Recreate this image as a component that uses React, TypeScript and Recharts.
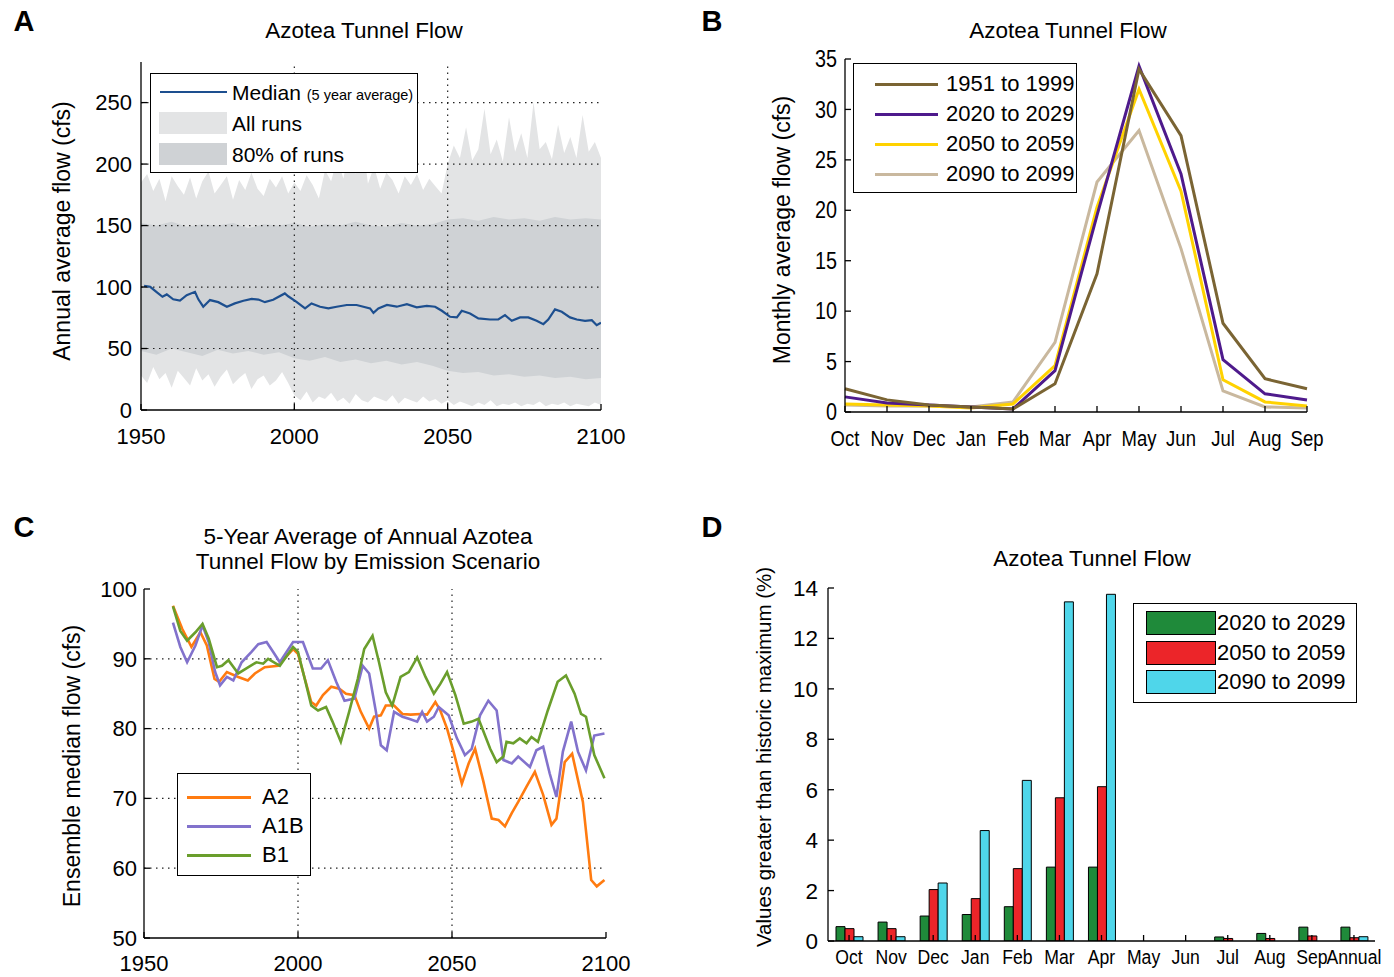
import React from 'react';
import {
  ComposedChart,
  LineChart,
  BarChart,
  Line,
  Area,
  Bar,
  XAxis,
  YAxis,
  ReferenceLine,
  Legend,
} from 'recharts';

const FONT = '"Liberation Sans", Arial, Helvetica, sans-serif';

// ---------------- Panel A data ----------------
const aXTicks = [1950, 2000, 2050, 2100];
const aYTicks = [0, 50, 100, 150, 200, 250];

const allRunsYears = [
  1950, 1952, 1954, 1956, 1958, 1960, 1962, 1964, 1966, 1968, 1970, 1972, 1974, 1976, 1978, 1980,
  1982, 1984, 1986, 1988, 1990, 1992, 1994, 1996, 1998, 2000, 2002, 2004, 2006, 2008, 2010, 2012,
  2014, 2016, 2018, 2020, 2022, 2024, 2026, 2028, 2030, 2032, 2034, 2036, 2038, 2040, 2042, 2044,
  2046, 2048, 2050, 2052, 2054, 2056, 2058, 2060, 2062, 2064, 2066, 2068, 2070, 2072, 2074, 2076,
  2078, 2080, 2082, 2084, 2086, 2088, 2090, 2092, 2094, 2096, 2098, 2100,
];
const allRunsHigh = [
  185, 192, 178, 188, 170, 190, 182, 175, 189, 172, 186, 194, 176, 183, 190, 171,
  187, 179, 193, 180, 174, 188, 181, 190, 176, 185, 178, 191, 183, 172, 195, 186,
  205, 188, 215, 192, 225, 184, 198, 180, 193, 187, 176, 190, 183, 192, 179, 188,
  182, 176, 200, 215, 205, 230, 203, 212, 245, 208, 220, 202, 238, 210, 225, 205,
  250, 212, 218, 204, 232, 209, 222, 205, 240, 210, 218, 205,
];
const allRunsLow = [
  28, 22, 35, 25, 30, 18, 32, 26, 20, 34, 24, 29, 19, 27, 33, 21,
  26, 30, 17, 25, 28, 20, 24, 31, 22, 12, 8, 15, 6, 11, 9, 14,
  7, 10, 5, 13, 8, 6, 11, 9, 7, 12, 5, 10, 8, 6, 11, 7,
  9, 5, 8, 4, 7, 5, 3, 6, 4, 8, 3, 5, 4, 6, 3, 5,
  4, 7, 3, 5, 4, 6, 3, 5, 4, 3, 6, 4,
];

const bandYears = [
  1950, 1955, 1960, 1965, 1970, 1975, 1980, 1985, 1990, 1995, 2000, 2005, 2010, 2015, 2020, 2025,
  2030, 2035, 2040, 2045, 2050, 2055, 2060, 2065, 2070, 2075, 2080, 2085, 2090, 2095, 2100,
];
const band80Low = [
  48, 45, 50, 47, 44, 49, 46, 48, 45, 47, 42, 40, 43, 39, 41, 38,
  40, 37, 39, 36, 32, 30, 31, 28, 29, 27, 28, 26, 27, 25, 26,
];
const band80High = [
  152, 150, 153, 149, 151, 150, 152, 148, 151, 150, 152, 149, 151, 150, 153, 150,
  149, 152, 150, 151, 155, 156, 154, 157, 155, 156, 154, 157, 155, 156, 155,
];

const medianYears = [
  1951, 1953, 1955, 1957, 1958.4, 1960.5, 1962.7, 1964.9, 1967.6, 1968.7, 1970.3, 1972.5, 1975.2,
  1978, 1980.6, 1983.4, 1986.1, 1988.3, 1990.4, 1993.1, 1996.9, 1998, 2000.7, 2003.5, 2005.6,
  2008.4, 2011.1, 2013.8, 2017.1, 2020.3, 2024.7, 2025.8, 2027.4, 2030.2, 2033.4, 2036.7, 2039.9,
  2043.2, 2045.9, 2048.1, 2050.8, 2053, 2054.6, 2057.3, 2060, 2063.8, 2066.5, 2068.7, 2070.9,
  2073.6, 2076.3, 2079, 2081.2, 2082.8, 2085, 2087.2, 2089.9, 2092.1, 2094.8, 2097, 2098.6, 2100,
];
const medianValues = [
  101, 100.2, 96.1, 92.1, 94, 90, 89, 93.4, 96.1, 90, 84, 89.4, 87.7,
  84, 86.7, 88.8, 90.4, 89.8, 87.7, 89.6, 94.8, 92.5, 88, 82.6, 86.7,
  84, 82.6, 84, 85.4, 85.4, 82.6, 79, 82.6, 85.4, 84, 86, 83.5,
  84.6, 84, 80.7, 75.8, 75.3, 80.7, 78.5, 74.5, 73.6, 73.6, 77.2, 72.5,
  75.3, 75.3, 72.5, 69.8, 73.6, 81.8, 79.9, 75.3, 73.6, 72.5, 73.1, 69, 70.9,
];

// ---------------- Panel B data ----------------
const months = ['Oct', 'Nov', 'Dec', 'Jan', 'Feb', 'Mar', 'Apr', 'May', 'Jun', 'Jul', 'Aug', 'Sep'];
const flow1951 = [2.3, 1.2, 0.7, 0.5, 0.3, 2.8, 13.7, 34.0, 27.4, 8.8, 3.3, 2.3];
const flow2020 = [1.5, 0.9, 0.7, 0.5, 0.3, 4.1, 19.5, 34.3, 23.6, 5.2, 1.8, 1.2];
const flow2050 = [0.8, 0.7, 0.6, 0.4, 0.8, 4.6, 20.3, 32.0, 21.9, 3.2, 1.0, 0.6];
const flow2090 = [0.7, 0.6, 0.6, 0.5, 1.0, 6.9, 22.8, 27.9, 16.2, 2.1, 0.5, 0.4];
const bYTicks = [0, 5, 10, 15, 20, 25, 30, 35];

// ---------------- Panel C data ----------------
const cXTicks = [1950, 2000, 2050, 2100];
const cYTicks = [50, 60, 70, 80, 90, 100];
const a2Years = [
  1959.4, 1962.4, 1965.4, 1968.3, 1970.4, 1972.9, 1974.4, 1976.9, 1980.6, 1983.7, 1986, 1989.2,
  1993.5, 1998.4, 2000, 2004.3, 2005.9, 2008.1, 2010.8, 2013.4, 2015.6, 2018.3, 2020.4, 2023.1,
  2024.7, 2026.9, 2028.5, 2031.2, 2033.9, 2036.6, 2039.8, 2041.9, 2044.6, 2046.2, 2048.4, 2050.5,
  2053.2, 2055.4, 2057.5, 2060.2, 2062.9, 2065.1, 2067.2, 2069.4, 2071.5, 2074.2, 2076.9, 2079.6,
  2082.3, 2083.9, 2086.6, 2089, 2092.5, 2095.2, 2097, 2099.5,
];
const a2Values = [
  97.6, 94.3, 91.7, 93.8, 91.9, 87.1, 86.7, 88.1, 87.4, 86.9, 87.9, 88.8,
  89.0, 91.4, 90.7, 83.8, 83.3, 84.8, 86.0, 85.7, 85.0, 84.8, 82.4, 80.0,
  81.7, 81.9, 83.3, 83.3, 82.1, 82.0, 82.1, 82.0, 83.8, 82.6, 80.0, 76.7,
  72.1, 75.0, 77.1, 72.4, 67.1, 66.9, 66.0, 67.9, 69.5, 71.7, 73.8, 70.5,
  66.2, 67.1, 75.2, 76.4, 69.5, 58.3, 57.4, 58.3,
];
const a1bYears = [
  1959.4, 1961.8, 1964, 1966.7, 1969, 1971, 1973.1, 1974.7, 1976.9, 1979, 1981.7, 1984.9,
  1987.1, 1989.8, 1991.9, 1994.1, 1998.4, 2001.6, 2004.8, 2007.5, 2009.7, 2012.4, 2015.1, 2018.3,
  2021, 2023.1, 2025.3, 2026.9, 2028.8, 2031.2, 2033.9, 2036, 2038.7, 2040.3, 2041.9, 2044.1,
  2045.7, 2048.9, 2051.6, 2054.2, 2056.4, 2059.1, 2061.8, 2064.5, 2066.7, 2069.4, 2071.5, 2075.3,
  2077.4, 2079.6, 2081.7, 2083.9, 2086, 2088.7, 2090.9, 2093.5, 2096.2, 2099.5,
];
const a1bValues = [
  95.2, 91.7, 89.5, 91.9, 94.8, 92.4, 88.1, 86.2, 87.4, 86.9, 89.5, 91.0,
  92.1, 92.4, 91.0, 89.5, 92.4, 92.4, 88.6, 88.6, 89.8, 86.7, 84.0, 84.3,
  89.0, 87.9, 82.4, 77.6, 76.9, 82.4, 81.7, 81.4, 81.0, 82.4, 81.0, 81.7,
  83.1, 81.9, 78.6, 76.2, 77.1, 81.9, 84.0, 82.6, 75.5, 75.0, 76.0, 74.5,
  76.9, 77.4, 73.6, 70.2, 76.7, 81.0, 76.7, 74.0, 79.0, 79.3,
];
const b1Years = [
  1959.4, 1961.8, 1964, 1966.7, 1969, 1971, 1973.7, 1975.3, 1977.4, 1980.6, 1983.9, 1986.5,
  1988.7, 1990.3, 1994.1, 1998.4, 2000, 2002.2, 2004.3, 2006.5, 2009.1, 2011.2, 2013.9, 2016.6,
  2019.4, 2021.5, 2024.2, 2026.3, 2028.5, 2030.6, 2033.3, 2036, 2038.7, 2041.4, 2044.1, 2046.2,
  2048.4, 2051.1, 2053.8, 2056.4, 2058.6, 2062.4, 2064.5, 2066.7, 2067.7, 2069.9, 2072, 2074.2,
  2075.8, 2077.9, 2081.1, 2084.3, 2087, 2089.8, 2091.9, 2093.5, 2096.2, 2099.5,
];
const b1Values = [
  97.5, 94.0, 92.6, 93.8, 95.0, 92.9, 88.8, 89.0, 89.8, 87.9, 88.8, 89.5,
  89.3, 90.0, 89.0, 91.7, 91.0, 87.1, 83.3, 82.6, 83.1, 81.0, 78.1, 82.4,
  87.1, 91.4, 93.3, 89.5, 85.2, 83.3, 87.4, 88.1, 90.2, 87.4, 85.0, 86.4,
  88.1, 84.8, 80.7, 81.0, 81.4, 77.1, 75.2, 76.0, 78.1, 77.9, 78.6, 77.9,
  78.8, 78.1, 82.6, 86.7, 87.6, 85.0, 82.1, 81.7, 76.2, 72.9,
];

// ---------------- Panel D data ----------------
const dCategories = ['Oct', 'Nov', 'Dec', 'Jan', 'Feb', 'Mar', 'Apr', 'May', 'Jun', 'Jul', 'Aug', 'Sep', 'Annual'];
const exceed2020 = [0.57, 0.75, 0.99, 1.05, 1.36, 2.93, 2.93, 0, 0, 0.16, 0.3, 0.55, 0.55];
const exceed2050 = [0.49, 0.49, 2.04, 1.68, 2.87, 5.68, 6.12, 0, 0, 0.1, 0.1, 0.2, 0.13];
const exceed2090 = [0.17, 0.17, 2.3, 4.38, 6.37, 13.45, 13.75, 0, 0, 0, 0, 0, 0.17];
const dYTicks = [0, 2, 4, 6, 8, 10, 12, 14];

// ---------------- colors ----------------
const C_ALL = '#e3e4e5';
const C_80 = '#cfd2d5';
const C_MEDIAN = '#1d4f8f';
const C_1951 = '#7a6433';
const C_2020 = '#4e1a8c';
const C_2050 = '#ffd200';
const C_2090 = '#c9b89e';
const C_A2 = '#ff7b10';
const C_A1B = '#8272cc';
const C_B1 = '#6a9e2c';
const C_G = '#1f8a3a';
const C_R = '#ec2529';
const C_C = '#4fd6ea';

// ---------------- built tables ----------------
const allRunsData = allRunsYears.map((y, i) => ({ year: y, range: [allRunsLow[i], allRunsHigh[i]] }));
const band80Data = bandYears.map((y, i) => ({ year: y, range: [band80Low[i], band80High[i]] }));
const medianData = medianYears.map((y, i) => ({ year: y, v: medianValues[i] }));
const monthlyData = months.map((m, i) => ({
  m,
  p1951: flow1951[i],
  p2020: flow2020[i],
  p2050: flow2050[i],
  p2090: flow2090[i],
}));
const a2Data = a2Years.map((y, i) => ({ year: y, v: a2Values[i] }));
const a1bData = a1bYears.map((y, i) => ({ year: y, v: a1bValues[i] }));
const b1Data = b1Years.map((y, i) => ({ year: y, v: b1Values[i] }));
const exceedData = dCategories.map((c, i) => ({
  c,
  e2020: exceed2020[i],
  e2050: exceed2050[i],
  e2090: exceed2090[i],
}));

const blank = () => '';
const tick = (size: number) => ({ fill: '#000', fontSize: size, fontFamily: FONT });

// condensed tick label (the source figure uses a narrow face for these)
function narrowTick(fs: number, sx: number, vAnchor: 'start' | 'middle') {
  return (props: any) => {
    const { x, y, payload, textAnchor } = props;
    return (
      <text
        x={0}
        y={0}
        dy={vAnchor === 'start' ? '0.71em' : '0.355em'}
        textAnchor={textAnchor}
        fontSize={fs}
        fontFamily={FONT}
        fill="#000"
        transform={`translate(${x},${y}) scale(${sx},1)`}
      >
        {payload.value}
      </text>
    );
  };
}

function Txt(props: { x: number; y: number; size?: number; rotate?: number; bold?: boolean; children: React.ReactNode }) {
  const { x, y, size = 22, rotate = 0, bold = false, children } = props;
  return (
    <div
      style={{
        position: 'absolute',
        left: x,
        top: y,
        transform: `translate(-50%, -50%) rotate(${rotate}deg)`,
        whiteSpace: 'nowrap',
        fontFamily: FONT,
        fontSize: size,
        fontWeight: bold ? 700 : 400,
        color: '#000',
        lineHeight: 1,
      }}
    >
      {children}
    </div>
  );
}

const boxStyle = (w: number, h: number): React.CSSProperties => ({
  width: w,
  height: h,
  border: '1.6px solid #000',
  background: '#fff',
  boxSizing: 'border-box',
  position: 'relative',
  fontFamily: FONT,
  color: '#000',
});

function Row(props: { top: number; left: number; size: number; children: React.ReactNode }) {
  return (
    <div
      style={{
        position: 'absolute',
        top: props.top,
        left: props.left,
        transform: 'translateY(-50%)',
        fontSize: props.size,
        lineHeight: 1,
        whiteSpace: 'nowrap',
      }}
    >
      {props.children}
    </div>
  );
}

function Seg(props: { top: number; left: number; width: number; color: string; thick: number }) {
  return (
    <div
      style={{
        position: 'absolute',
        top: props.top - props.thick / 2,
        left: props.left,
        width: props.width,
        height: props.thick,
        background: props.color,
      }}
    />
  );
}

function Patch(props: { top: number; left: number; width: number; height: number; color: string; border?: boolean }) {
  return (
    <div
      style={{
        position: 'absolute',
        top: props.top - props.height / 2,
        left: props.left,
        width: props.width,
        height: props.height,
        background: props.color,
        border: props.border ? '1px solid #000' : 'none',
        boxSizing: 'border-box',
      }}
    />
  );
}

const LegendA = () => (
  <div style={boxStyle(268, 100)}>
    <Seg top={18} left={9} width={67} color={C_MEDIAN} thick={1.5} />
    <Row top={18} left={81} size={21}>
      Median <span style={{ fontSize: 14.5 }}>(5 year average)</span>
    </Row>
    <Patch top={49} left={8} width={68} height={22} color={C_ALL} />
    <Row top={49} left={81} size={21}>All runs</Row>
    <Patch top={80} left={8} width={68} height={22} color={C_80} />
    <Row top={80} left={81} size={21}>80% of runs</Row>
  </div>
);

const LegendB = () => (
  <div style={boxStyle(224, 130)}>
    {[
      ['1951 to 1999', C_1951],
      ['2020 to 2029', C_2020],
      ['2050 to 2059', C_2050],
      ['2090 to 2099', C_2090],
    ].map(([label, color], i) => (
      <React.Fragment key={label}>
        <Seg top={20 + i * 30} left={21} width={63} color={color} thick={3} />
        <Row top={20 + i * 30} left={92} size={22}>{label}</Row>
      </React.Fragment>
    ))}
  </div>
);

const LegendC = () => (
  <div style={boxStyle(134, 103)}>
    {[
      ['A2', C_A2],
      ['A1B', C_A1B],
      ['B1', C_B1],
    ].map(([label, color], i) => (
      <React.Fragment key={label}>
        <Seg top={23 + i * 29} left={9} width={64} color={color} thick={3} />
        <Row top={23 + i * 29} left={84} size={22}>{label}</Row>
      </React.Fragment>
    ))}
  </div>
);

const LegendD = () => (
  <div style={boxStyle(224, 100)}>
    {[
      ['2020 to 2029', C_G],
      ['2050 to 2059', C_R],
      ['2090 to 2099', C_C],
    ].map(([label, color], i) => (
      <React.Fragment key={label}>
        <Patch top={19 + i * 29.5} left={12} width={70} height={24} color={color} border />
        <Row top={19 + i * 29.5} left={83} size={22}>{label}</Row>
      </React.Fragment>
    ))}
  </div>
);

const gridStroke = { stroke: '#222', strokeDasharray: '1.5 4.5', strokeWidth: 1.2 };
const axisStroke = '#000';

function PanelA() {
  return (
    <ComposedChart width={640} height={470} margin={{ top: 62, right: 39, bottom: 30, left: 81 }}>
      <XAxis xAxisId="b" type="number" dataKey="year" domain={[1950, 2100]} ticks={aXTicks} allowDataOverflow
        tick={tick(22)} tickSize={-6} tickMargin={24} height={30} stroke={axisStroke} strokeWidth={1.3} />
      <XAxis xAxisId="t" orientation="top" type="number" dataKey="year" domain={[1950, 2100]} ticks={aXTicks} allowDataOverflow
        tickFormatter={blank} tickSize={-6} height={0} stroke={axisStroke} strokeWidth={1.3} />
      <YAxis yAxisId="l" type="number" domain={[0, 283]} ticks={aYTicks} allowDataOverflow width={60}
        tick={tick(22)} tickSize={-6} tickMargin={15} stroke={axisStroke} strokeWidth={1.3} />
      <YAxis yAxisId="r" orientation="right" type="number" domain={[0, 283]} ticks={aYTicks} allowDataOverflow width={0}
        tickFormatter={blank} tickSize={-6} stroke={axisStroke} strokeWidth={1.3} />
      <Area xAxisId="b" yAxisId="l" data={allRunsData} dataKey="range" type="linear" stroke="none" fill={C_ALL}
        fillOpacity={1} isAnimationActive={false} />
      <Area xAxisId="b" yAxisId="l" data={band80Data} dataKey="range" type="linear" stroke="none" fill={C_80}
        fillOpacity={1} isAnimationActive={false} />
      {[2000, 2050].map((x) => (
        <ReferenceLine key={'x' + x} xAxisId="b" yAxisId="l" x={x} {...gridStroke} />
      ))}
      {[50, 100, 150, 200, 250].map((y) => (
        <ReferenceLine key={'y' + y} xAxisId="b" yAxisId="l" y={y} {...gridStroke} />
      ))}
      <Line xAxisId="b" yAxisId="l" data={medianData} dataKey="v" type="linear" stroke={C_MEDIAN} strokeWidth={2.2}
        dot={false} isAnimationActive={false} />
      <Legend content={LegendA} layout="horizontal" verticalAlign="middle" align="center"
        wrapperStyle={{ left: 150, top: 73, width: 268, height: 100 }} />
    </ComposedChart>
  );
}

function PanelB() {
  return (
    <LineChart width={640} height={470} data={monthlyData} margin={{ top: 59, right: 33, bottom: 28, left: 95 }}>
      <XAxis xAxisId="b" dataKey="m" type="category" interval={0} padding={{ left: 0, right: 0 }}
        tick={narrowTick(21.5, 0.86, 'start')} tickSize={-6} tickMargin={25} height={30} stroke={axisStroke} strokeWidth={1.3} />
      <XAxis xAxisId="t" orientation="top" dataKey="m" type="category" interval={0} padding={{ left: 0, right: 0 }}
        tickFormatter={blank} tickSize={-6} height={0} stroke={axisStroke} strokeWidth={1.3} />
      <YAxis yAxisId="l" type="number" domain={[0, 35]} ticks={bYTicks} width={50}
        tick={narrowTick(23, 0.86, 'middle')} tickSize={-6} tickMargin={14} stroke={axisStroke} strokeWidth={1.3} />
      <YAxis yAxisId="r" orientation="right" type="number" domain={[0, 35]} ticks={bYTicks} width={0}
        tickFormatter={blank} tickSize={-6} stroke={axisStroke} strokeWidth={1.3} />
      <Line xAxisId="b" yAxisId="l" dataKey="p2090" type="linear" stroke={C_2090} strokeWidth={3} dot={false} isAnimationActive={false} />
      <Line xAxisId="b" yAxisId="l" dataKey="p2050" type="linear" stroke={C_2050} strokeWidth={3} dot={false} isAnimationActive={false} />
      <Line xAxisId="b" yAxisId="l" dataKey="p2020" type="linear" stroke={C_2020} strokeWidth={3} dot={false} isAnimationActive={false} />
      <Line xAxisId="b" yAxisId="l" dataKey="p1951" type="linear" stroke={C_1951} strokeWidth={3} dot={false} isAnimationActive={false} />
      <Legend content={LegendB} layout="horizontal" verticalAlign="middle" align="center"
        wrapperStyle={{ left: 153, top: 63, width: 224, height: 130 }} />
    </LineChart>
  );
}

function PanelC() {
  return (
    <ComposedChart width={640} height={477} margin={{ top: 89, right: 34, bottom: 9, left: 84 }}>
      <XAxis xAxisId="b" type="number" dataKey="year" domain={[1950, 2100]} ticks={cXTicks} allowDataOverflow
        tick={tick(22)} tickSize={-6} tickMargin={23} height={30} stroke={axisStroke} strokeWidth={1.3} />
      <XAxis xAxisId="t" orientation="top" type="number" dataKey="year" domain={[1950, 2100]} ticks={cXTicks} allowDataOverflow
        tickFormatter={blank} tickSize={-6} height={0} stroke={axisStroke} strokeWidth={1.3} />
      <YAxis yAxisId="l" type="number" domain={[50, 100]} ticks={cYTicks} allowDataOverflow width={60}
        tick={tick(22)} tickSize={-6} tickMargin={13} stroke={axisStroke} strokeWidth={1.3} />
      <YAxis yAxisId="r" orientation="right" type="number" domain={[50, 100]} ticks={cYTicks} allowDataOverflow width={0}
        tickFormatter={blank} tickSize={-6} stroke={axisStroke} strokeWidth={1.3} />
      {[2000, 2050].map((x) => (
        <ReferenceLine key={'x' + x} xAxisId="b" yAxisId="l" x={x} {...gridStroke} />
      ))}
      {[60, 70, 80, 90].map((y) => (
        <ReferenceLine key={'y' + y} xAxisId="b" yAxisId="l" y={y} {...gridStroke} />
      ))}
      <Line xAxisId="b" yAxisId="l" data={a2Data} dataKey="v" type="linear" stroke={C_A2} strokeWidth={2.6} dot={false} isAnimationActive={false} />
      <Line xAxisId="b" yAxisId="l" data={a1bData} dataKey="v" type="linear" stroke={C_A1B} strokeWidth={2.6} dot={false} isAnimationActive={false} />
      <Line xAxisId="b" yAxisId="l" data={b1Data} dataKey="v" type="linear" stroke={C_B1} strokeWidth={2.6} dot={false} isAnimationActive={false} />
      <Legend content={LegendC} layout="horizontal" verticalAlign="middle" align="center"
        wrapperStyle={{ left: 177, top: 273, width: 134, height: 103 }} />
    </ComposedChart>
  );
}

function PanelD() {
  return (
    <BarChart width={694} height={477} data={exceedData} margin={{ top: 88, right: 19, bottom: 6, left: 78 }}
      barGap={0} barSize={9}>
      <XAxis xAxisId="b" dataKey="c" type="category" interval={0}
        tick={narrowTick(21, 0.84, 'start')} tickSize={-6} tickMargin={14} height={30} stroke={axisStroke} strokeWidth={1.3} />
      <XAxis xAxisId="t" orientation="top" dataKey="c" type="category" interval={0}
        tickFormatter={blank} tickSize={-6} height={0} stroke={axisStroke} strokeWidth={1.3} />
      <YAxis yAxisId="l" type="number" domain={[0, 14]} ticks={dYTicks} allowDataOverflow width={50}
        tick={tick(22.5)} tickSize={-6} tickMargin={16} stroke={axisStroke} strokeWidth={1.3} />
      <YAxis yAxisId="r" orientation="right" type="number" domain={[0, 14]} ticks={dYTicks} allowDataOverflow width={0}
        tickFormatter={blank} tickSize={-6} stroke={axisStroke} strokeWidth={1.3} />
      <Bar xAxisId="b" yAxisId="l" dataKey="e2020" fill={C_G} stroke="#000" strokeWidth={1} isAnimationActive={false} />
      <Bar xAxisId="b" yAxisId="l" dataKey="e2050" fill={C_R} stroke="#000" strokeWidth={1} isAnimationActive={false} />
      <Bar xAxisId="b" yAxisId="l" dataKey="e2090" fill={C_C} stroke="#000" strokeWidth={1} isAnimationActive={false} />
      <Legend content={LegendD} layout="horizontal" verticalAlign="middle" align="center"
        wrapperStyle={{ left: 433, top: 103, width: 224, height: 100 }} />
    </BarChart>
  );
}

export default function App() {
  return (
    <div style={{ position: 'absolute', left: 0, top: 0, width: 1394, height: 977, background: '#fff', overflow: 'hidden', fontFamily: FONT }}>
      <div style={{ position: 'absolute', left: 0, top: 0 }}><PanelA /></div>
      <div style={{ position: 'absolute', left: 700, top: 0 }}><PanelB /></div>
      <div style={{ position: 'absolute', left: 0, top: 500 }}><PanelC /></div>
      <div style={{ position: 'absolute', left: 700, top: 500 }}><PanelD /></div>

      <Txt x={24} y={21} size={29} bold>A</Txt>
      <Txt x={712} y={21} size={29} bold>B</Txt>
      <Txt x={24} y={527} size={29} bold>C</Txt>
      <Txt x={712} y={527} size={29} bold>D</Txt>

      <Txt x={364} y={31} size={22.5}>Azotea Tunnel Flow</Txt>
      <Txt x={1068} y={31} size={22.5}>Azotea Tunnel Flow</Txt>
      <Txt x={368} y={537} size={22.5}>5-Year Average of Annual Azotea</Txt>
      <Txt x={368} y={562} size={22.5}>Tunnel Flow by Emission Scenario</Txt>
      <Txt x={1092} y={559} size={22.5}>Azotea Tunnel Flow</Txt>

      <Txt x={62} y={231} size={23} rotate={-90}>Annual average flow (cfs)</Txt>
      <Txt x={782} y={230} size={23} rotate={-90}>Monthly average flow (cfs)</Txt>
      <Txt x={72} y={766} size={23} rotate={-90}>Ensemble median flow (cfs)</Txt>
      <Txt x={764} y={757} size={20.5} rotate={-90}>Values greater than historic maximum (%)</Txt>
    </div>
  );
}
